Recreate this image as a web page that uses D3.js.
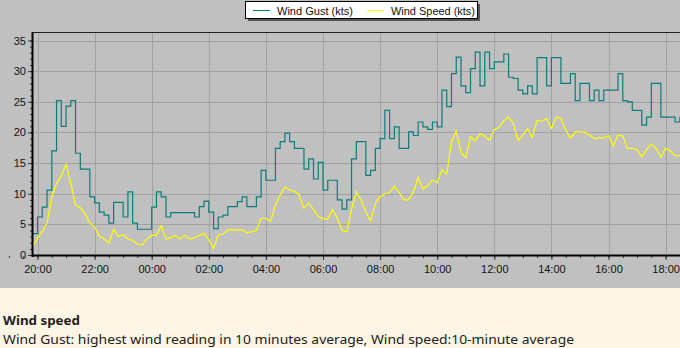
<!DOCTYPE html>
<html>
<head>
<meta charset="utf-8">
<script src="https://cdn.jsdelivr.net/npm/d3@7"></script>
<style>
  body { margin: 0; background: #fdf6e6; }
  text { font-family: "Liberation Sans", Arial, sans-serif; }
</style>
</head>
<body>
<div id="chart"></div>
<script>
// readings every 10 minutes starting 19:50
let startTime = new Date(Date.UTC(2000, 0, 1, 19, 50));
let stepMinutes = 10;

let windGust = [3.5, 6.2, 7.8, 10.6, 17, 25.2, 21, 24.3, 25.2, 16.6,
    14, 14, 9.5, 8.5, 7.0, 6.5, 5.2, 8.6, 8.6, 6.2,
    10.3, 5.2, 4.2, 4.2, 4.2, 7.8, 10.3, 9.5, 6.2, 6.9,
    6.9, 6.9, 6.9, 6.9, 6.2, 7.9, 8.8, 7.0, 4.3, 6.2,
    6.5, 7.9, 7.9, 8.7, 9.5, 7.9, 7.9, 9.5, 13.8, 12.2,
    12.2, 17.4, 18.5, 19.9, 18.5, 17.4, 17.4, 14.0, 15.7, 12.4,
    15.1, 10.6, 12.2, 12.2, 9.0, 7.5, 9.0, 15.7, 18.5, 18.5,
    13, 13.8, 17.4, 19, 23.6, 19, 20.9, 17.4, 17.4, 20.1,
    19.5, 21.7, 20.9, 20.5, 21.7, 20.9, 26.9, 24.2, 29.6, 32.3,
    27.6, 26.5, 30.4, 33.1, 27.6, 33.1, 30.4, 31.5, 31.5, 32.8,
    29, 28.8, 26.9, 26.3, 27.6, 26.3, 32.2, 32.2, 27.6, 32.2,
    32.2, 28, 28, 29.6, 25.2, 28, 28, 25.2, 26.9, 25.2,
    26.9, 26.9, 26.9, 29.6, 25.2, 25.0, 23.6, 23.6, 21.2, 22.5,
    28, 28, 22.5, 22.5, 22.5, 21.7, 22.5];

let windSpeed = [1.5, 2.7, 3.8, 5.2, 9.5, 11.7, 12.9, 14.8, 11.8, 8.1,
    7.7, 6.7, 5.2, 4.6, 3.1, 2.6, 2.0, 4.2, 3.0, 3.3,
    2.6, 2.4, 1.8, 1.6, 2.6, 3.2, 3.2, 4.8, 2.6, 2.8,
    3.2, 2.6, 3.2, 2.6, 2.8, 3.2, 3.5, 2.5, 1.1, 3.3,
    3.4, 4.1, 4.1, 4.1, 4.1, 3.6, 3.8, 4.0, 6.0, 6.0,
    5.5, 8.2, 9.8, 11.1, 10.6, 10.4, 9.8, 7.6, 8.5, 7.4,
    6.3, 5.9, 5.9, 7.4, 6.0, 4.0, 3.8, 7.5, 10.3, 9.0,
    7.0, 5.6, 8.4, 9.5, 10, 10.2, 11.2, 10.2, 9, 9,
    10.3, 12.6, 10.8, 11.3, 12.2, 11.8, 13.9, 13.2, 18.4, 20.2,
    16.7, 15.9, 19.3, 18.6, 19.8, 19.4, 18.7, 20.5, 20.8, 21.9,
    22.5, 21.5, 18.7, 19.6, 20.6, 19.2, 22.0, 21.8, 22.3, 20.6,
    22.5, 22.3, 20.4, 19.1, 20.1, 20.1, 20.0, 19.6, 19.0, 19.1,
    19.1, 19.5, 17.8, 19.6, 19.4, 17.4, 17.4, 17.2, 16.0, 17.2,
    18.1, 17.4, 16.0, 17.4, 17.0, 16.2, 16.2];

let yTicks = [0, 5, 10, 15, 20, 25, 30, 35];
let seriesNames = ["Wind Gust (kts)", "Wind Speed (kts)"];
let seriesColors = ["#0b7b7b", "#ffff00"];
let noteTitle = "Wind speed";
let noteText = "Wind Gust: highest wind reading in 10 minutes average, Wind speed:10-minute average";

let width = 680, height = 348;
let plot = {left: 33, right: 680, top: 32, bottom: 255};

let svg = d3.select("#chart").append("svg")
    .attr("width", width)
    .attr("height", height);

svg.append("rect").attr("width", width).attr("height", 288).attr("fill", "#c0c0c0");
svg.append("rect").attr("y", 288).attr("width", width).attr("height", height - 288).attr("fill", "#fdf6e6");

let t0 = new Date(Date.UTC(2000, 0, 1, 20, 0));
let t1 = new Date(Date.UTC(2000, 0, 2, 18, 0));
let xScale = d3.scaleUtc().domain([t0, t1]).range([37.5, 665.6]);
let yScale = d3.scaleLinear().domain([0, 35]).range([255, 40.5]);

let toPoints = arr => arr.map((v, i) => ({
    time: new Date(startTime.getTime() + i * stepMinutes * 60000),
    value: v
}));

// grid
let grid = svg.append("g").attr("id", "grid");
grid.selectAll(".hgrid").data(yTicks.slice(1)).enter().append("line")
    .attr("x1", plot.left).attr("x2", plot.right)
    .attr("y1", d => Math.round(yScale(d)) + 0.5).attr("y2", d => Math.round(yScale(d)) + 0.5)
    .attr("stroke", "#a2a2a2");
let majorTimes = d3.utcHour.every(2).range(t0, new Date(t1.getTime() + 1));
grid.selectAll(".vgrid").data(majorTimes).enter().append("line")
    .attr("x1", d => Math.round(xScale(d)) + 0.5).attr("x2", d => Math.round(xScale(d)) + 0.5)
    .attr("y1", plot.top).attr("y2", plot.bottom)
    .attr("stroke", "#a2a2a2");

// clip for data lines
svg.append("clipPath").attr("id", "plotClip").append("rect")
    .attr("x", plot.left).attr("y", plot.top)
    .attr("width", plot.right - plot.left).attr("height", plot.bottom - plot.top);

let dataG = svg.append("g").attr("clip-path", "url(#plotClip)");
let gustLine = d3.line().x(d => xScale(d.time)).y(d => yScale(d.value)).curve(d3.curveStepAfter);
let speedLine = d3.line().x(d => xScale(d.time)).y(d => yScale(d.value));

dataG.append("path").datum(toPoints(windSpeed))
    .attr("d", speedLine).attr("fill", "none")
    .attr("stroke", seriesColors[1]).attr("stroke-width", 1.2);
dataG.append("path").datum(toPoints(windGust))
    .attr("d", gustLine).attr("fill", "none")
    .attr("stroke", seriesColors[0]).attr("stroke-width", 1.2);

// axes
let yAxis = d3.axisLeft(yScale).tickValues(yTicks).tickSize(4).tickPadding(2).tickSizeOuter(0);
let yMinor = d3.axisLeft(yScale).ticks(35).tickSize(2).tickFormat("").tickSizeOuter(0);
let xAxis = d3.axisBottom(xScale).tickValues(majorTimes).tickSize(4).tickPadding(5)
    .tickFormat(d3.utcFormat("%H:%M")).tickSizeOuter(0);
let xMinor = d3.axisBottom(xScale)
    .tickValues(d3.utcMinute.every(30).range(new Date(t0.getTime() - 3600000), new Date(t1.getTime() + 3600000)))
    .tickSize(2).tickFormat("").tickSizeOuter(0);

let yA = svg.append("g").attr("transform", "translate(" + (plot.left - 1) + ",0)").call(yAxis);
svg.append("g").attr("transform", "translate(" + (plot.left - 1) + ",0)").call(yMinor).select(".domain").remove();
let xA = svg.append("g").attr("transform", "translate(0," + (plot.bottom + 1) + ")").call(xAxis);
svg.append("g").attr("transform", "translate(0," + (plot.bottom + 1) + ")").call(xMinor).select(".domain").remove();

svg.selectAll(".tick text").attr("font-size", 11).attr("font-family", "Liberation Sans, Arial, sans-serif").attr("fill", "#111");
svg.selectAll(".tick line").attr("stroke", "#333");
yA.select(".domain").remove();
xA.select(".domain").remove();

// plot frame
svg.append("line").attr("x1", plot.left).attr("x2", plot.right)
    .attr("y1", plot.top + 0.5).attr("y2", plot.top + 0.5).attr("stroke", "#202020");
svg.append("line").attr("x1", plot.left - 0.5).attr("x2", plot.left - 0.5)
    .attr("y1", plot.top).attr("y2", plot.bottom + 2).attr("stroke", "#000").attr("stroke-width", 2);
svg.append("line").attr("x1", plot.left - 1).attr("x2", plot.right)
    .attr("y1", plot.bottom + 0.5).attr("y2", plot.bottom + 0.5).attr("stroke", "#000").attr("stroke-width", 2);

// legend
let legend = svg.append("g").attr("id", "legend");
legend.append("rect").attr("x", 248).attr("y", 4).attr("width", 232).attr("height", 17).attr("fill", "#555");
legend.append("rect").attr("x", 245.5).attr("y", 1.5).attr("width", 232).attr("height", 17)
    .attr("fill", "#fff").attr("stroke", "#000");
let legendX = [[253, 270, 277, 76], [367, 384, 391, 84]];
seriesNames.forEach((name, i) => {
    legend.append("line").attr("x1", legendX[i][0]).attr("x2", legendX[i][1])
        .attr("y1", 10.5).attr("y2", 10.5).attr("stroke", seriesColors[i]);
    legend.append("text").attr("x", legendX[i][2]).attr("y", 14.5)
        .attr("font-size", 11.5).attr("fill", "#111")
        .attr("textLength", legendX[i][3]).attr("lengthAdjust", "spacingAndGlyphs").text(name);
});

// note below chart
svg.append("text").attr("x", 3).attr("y", 325)
    .style("font-family", "'Noto Sans', sans-serif").attr("font-size", 13).attr("font-weight", "bold")
    .attr("fill", "#222").attr("textLength", 77).attr("lengthAdjust", "spacingAndGlyphs").text(noteTitle);
svg.append("text").attr("x", 3).attr("y", 344)
    .style("font-family", "'Noto Sans', sans-serif").attr("font-size", 13)
    .attr("fill", "#222").attr("textLength", 571).attr("lengthAdjust", "spacingAndGlyphs").text(noteText);
</script>
</body>
</html>
